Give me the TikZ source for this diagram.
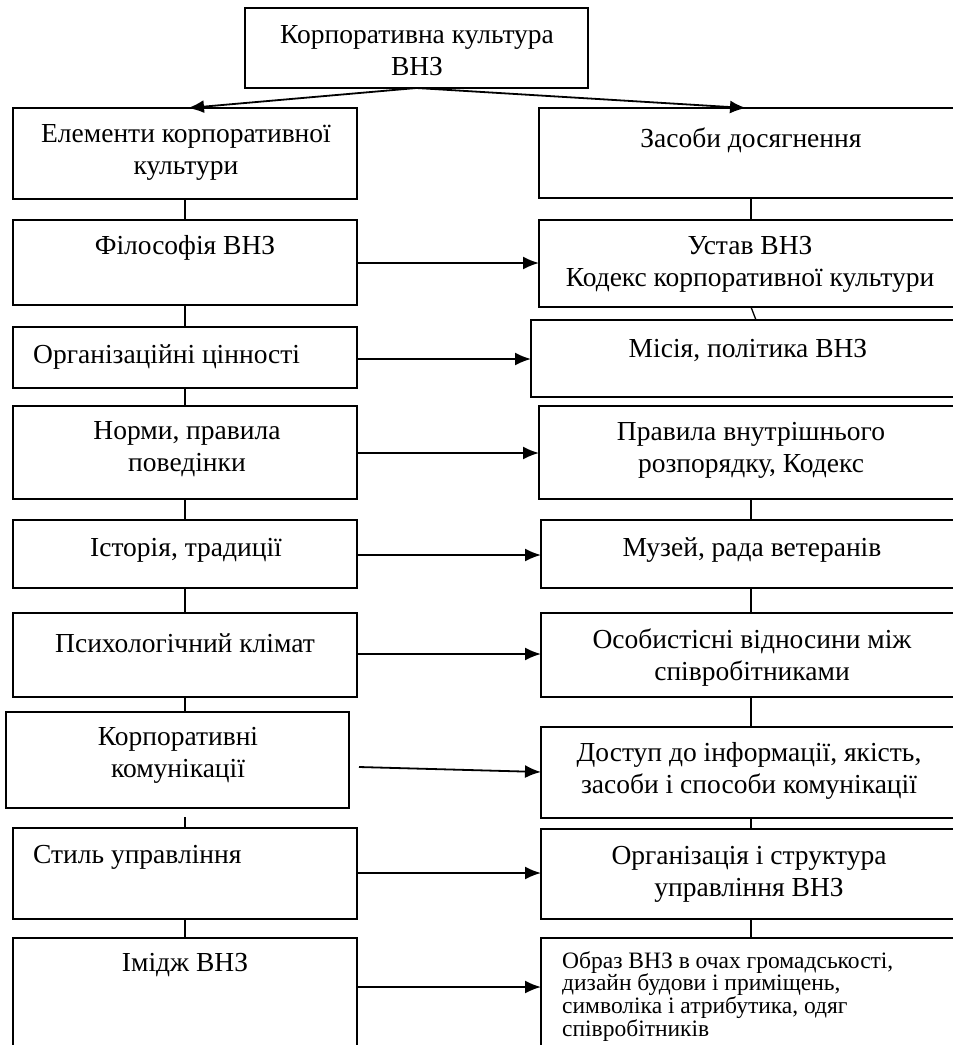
\documentclass[tikz,border=0pt]{standalone}
\usepackage{fontspec}
\setmainfont{Liberation Serif}
\usetikzlibrary{arrows.meta}
\tikzset{
  box/.style={draw, line width=2pt, anchor=north west, inner sep=0pt, outer sep=0pt},
  txt/.style={align=center, inner sep=0pt, font=\fontsize{27.5}{32}\selectfont},
  smalltxt/.style={align=left, inner sep=0pt, font=\fontsize{23.5}{20.5}\selectfont},
  link/.style={line width=1.3pt},
  arr/.style={line width=1.8pt, -{Latex[length=16pt,width=13pt]}}
}
\begin{document}
\begin{tikzpicture}[x=1pt,y=-1pt]
\useasboundingbox (0,0) rectangle (953,1045);
\clip (0,0) rectangle (953,1045);
\coordinate (cl) at (185,0);
\coordinate (cr) at (751,0);
% top
\node[box, minimum width=343pt, minimum height=80pt] (T) at (245,8) {};
\node[txt] (tT) at (417,51) {Корпоративна культура\\ВНЗ};
% left column
\node[box, minimum width=344pt, minimum height=91pt] (E) at (13,108) {};
\node[box, minimum width=344pt, minimum height=85pt] (F) at (13,220) {};
\node[box, minimum width=344pt, minimum height=61pt] (O) at (13,327) {};
\node[box, minimum width=344pt, minimum height=93pt] (N) at (13,406) {};
\node[box, minimum width=344pt, minimum height=68pt] (I) at (13,520) {};
\node[box, minimum width=344pt, minimum height=84pt] (P) at (13,613) {};
\node[box, minimum width=343pt, minimum height=96pt] (K) at (6,712) {};
\node[box, minimum width=344pt, minimum height=91pt] (S) at (13,828) {};
\node[box, minimum width=344pt, minimum height=130pt] (M) at (13,938) {};
% right column
\node[box, minimum width=431pt, minimum height=90pt] (Z) at (539,108) {};
\node[box, minimum width=431pt, minimum height=87pt] (U) at (539,220) {};
\node[box, minimum width=439pt, minimum height=77pt] (Mi) at (531,320) {};
\node[box, minimum width=431pt, minimum height=93pt] (Pr) at (539,406) {};
\node[box, minimum width=429pt, minimum height=68pt] (Mu) at (541,520) {};
\node[box, minimum width=429pt, minimum height=84pt] (Os) at (541,613) {};
\node[box, minimum width=429pt, minimum height=91pt] (D) at (541,727) {};
\node[box, minimum width=429pt, minimum height=90pt] (Og) at (541,829) {};
\node[box, minimum width=429pt, minimum height=130pt] (Ob) at (541,938) {};
% texts left
\node[txt] (tE) at (186,152) {Елементи корпоративної\\культури};
\node[txt] (tF) at (185,248) {Філософія ВНЗ};
\node[txt, anchor=west] (tO) at (33,357) {Організаційні цінності};
\node[txt] (tN) at (187,449) {Норми, правила\\поведінки};
\node[txt] (tI) at (186,550) {Історія, традиції};
\node[txt] (tP) at (185,643) {Психологічний клімат};
\node[txt] (tK) at (178,755) {Корпоративні\\комунікації};
\node[txt, anchor=west] (tS) at (33,857) {Стиль управління};
\node[txt] (tM) at (185,965) {Імідж ВНЗ};
% texts right
\node[txt] (tZ) at (751,140) {Засоби досягнення};
\node[txt] (tU) at (750,264) {Устав ВНЗ\\Кодекс корпоративної культури};
\node[txt] (tMi) at (748,350) {Місія, політика ВНЗ};
\node[txt] (tPr) at (751,450) {Правила внутрішнього\\розпорядку, Кодекс};
\node[txt] (tMu) at (752,550) {Музей, рада ветеранів};
\node[txt] (tOs) at (752,658) {Особистісні відносини між\\співробітниками};
\node[txt] (tD) at (749,771) {Доступ до інформації, якість,\\засоби і способи комунікації};
\node[txt] (tOg) at (749,874) {Організація і структура\\управління ВНЗ};
\node[smalltxt, anchor=north west] (tOb) at (562,951) {Образ ВНЗ в очах громадськості,\\дизайн будови і приміщень,\\символіка і атрибутика, одяг\\співробітників};
% top arrows
\coordinate (ta) at (188,108);
\coordinate (tb) at (746,108);
\draw[arr] (T.south) -- (E.north -| ta);
\draw[arr] (T.south) -- (Z.north -| tb);
% left connectors
\draw[link] (E.south -| cl) -- (F.north -| cl);
\draw[link] (F.south -| cl) -- (O.north -| cl);
\draw[link] (O.south -| cl) -- (N.north -| cl);
\draw[link] (N.south -| cl) -- (I.north -| cl);
\draw[link] (I.south -| cl) -- (P.north -| cl);
\draw[link] (P.south -| cl) -- (K.north -| cl);
\draw[link] ([yshift=-9pt]K.south -| cl) -- (S.north -| cl);
\draw[link] (S.south -| cl) -- (M.north -| cl);
% right connectors
\coordinate (cs) at (756,0);
\draw[link] (Z.south -| cr) -- (U.north -| cr);
\draw[link] (U.south -| cr) -- (Mi.north -| cs);
\draw[link] (Pr.south -| cr) -- (Mu.north -| cr);
\draw[link] (Mu.south -| cr) -- (Os.north -| cr);
\draw[link] (Os.south -| cr) -- (D.north -| cr);
\draw[link] (D.south -| cr) -- (Og.north -| cr);
\draw[link] (Og.south -| cr) -- (Ob.north -| cr);
% row arrows
\coordinate (y1) at (0,263);
\coordinate (y2) at (0,359);
\coordinate (y3) at (0,453);
\coordinate (y4) at (0,555);
\coordinate (y5) at (0,654);
\coordinate (y6a) at (359,767);
\coordinate (y6b) at (0,772);
\coordinate (y7) at (0,873);
\coordinate (y8) at (0,987);
\draw[arr] (F.east |- y1) -- (U.west |- y1);
\draw[arr] (O.east |- y2) -- (Mi.west |- y2);
\draw[arr] (N.east |- y3) -- (Pr.west |- y3);
\draw[arr] (I.east |- y4) -- (Mu.west |- y4);
\draw[arr] (P.east |- y5) -- (Os.west |- y5);
\draw[arr] (y6a) -- (D.west |- y6b);
\draw[arr] (S.east |- y7) -- (Og.west |- y7);
\draw[arr] (M.east |- y8) -- (Ob.west |- y8);
\end{tikzpicture}
\end{document}
